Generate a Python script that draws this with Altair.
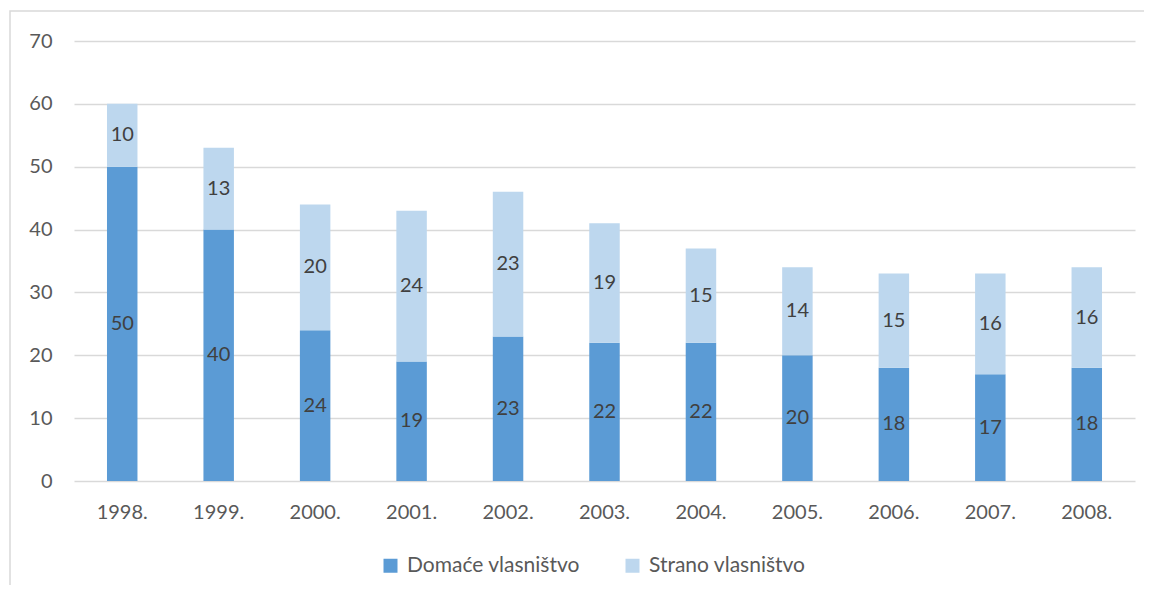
import altair as alt
import pandas as pd

years = ["1998.", "1999.", "2000.", "2001.", "2002.", "2003.", "2004.", "2005.", "2006.", "2007.", "2008."]
domace = [50, 40, 24, 19, 23, 22, 22, 20, 18, 17, 18]
strano = [10, 13, 20, 24, 23, 19, 15, 14, 15, 16, 16]
series = ["Domaće vlasništvo", "Strano vlasništvo"]
colors = ["#5B9BD5", "#BDD7EE"]
y_ticks = [0, 10, 20, 30, 40, 50, 60, 70]

rows = []
for i, yr in enumerate(years):
    rows.append({"year": yr, "series": series[0], "value": domace[i], "ord": 0})
    rows.append({"year": yr, "series": series[1], "value": strano[i], "ord": 1})
df = pd.DataFrame(rows)

FONT = "Lato"
AXIS_COLOR = "#595959"
GRID = "#D9D9D9"

xenc = alt.X(
    "year:N",
    sort=years,
    scale=alt.Scale(paddingInner=0.684, paddingOuter=0.342),
    axis=alt.Axis(
        title=None, labelAngle=0, ticks=False, domain=False, grid=False,
        labelPadding=21, labelFontSize=20, labelColor=AXIS_COLOR, labelFont=FONT,
    ),
)

base = alt.Chart(df)

bars = base.mark_bar().encode(
    x=xenc,
    y=alt.Y(
        "value:Q",
        stack="zero",
        scale=alt.Scale(domain=[0, 70], nice=False),
        axis=alt.Axis(
            values=y_ticks, title=None, ticks=False, domain=False, grid=True,
            gridColor=GRID, gridWidth=1.3, labelPadding=22, labelFontSize=20,
            labelColor=AXIS_COLOR, labelFont=FONT,
        ),
    ),
    color=alt.Color(
        "series:N",
        scale=alt.Scale(domain=series, range=colors),
        legend=alt.Legend(
            title=None, orient="none", direction="horizontal", legendX=306, legendY=514,
            symbolType="square", symbolSize=196, symbolStrokeWidth=0, labelFontSize=21,
            labelColor=AXIS_COLOR, labelFont=FONT, columnPadding=42, labelOffset=6,
            padding=0, labelLimit=400,
        ),
    ),
    order=alt.Order("ord:Q", sort="ascending"),
)

labels = base.transform_stack(
    stack="value", groupby=["year"], as_=["v0", "v1"], sort=[alt.SortField("ord", "ascending")]
).transform_calculate(
    mid="(datum.v0 + datum.v1) / 2"
).mark_text(fontSize=20, color="#404040", font=FONT, baseline="middle").encode(
    x=alt.X("year:N", sort=years),
    y=alt.Y("mid:Q"),
    text="value:Q",
)

border = alt.Chart(alt.Data(values=[{}])).mark_rect(
    fill=None, stroke=GRID, strokeWidth=1.5
).encode(
    x=alt.value(-64), x2=alt.value(1300), y=alt.value(-30), y2=alt.value(800)
)

chart = alt.layer(border, bars, labels).properties(
    width=1061,
    height=440,
    autosize=alt.AutoSizeParams(type="none"),
    padding={"left": 66, "top": 33, "right": 9, "bottom": 104},
    background="white",
).configure_view(stroke=None)

chart.save("out.html", embed_options={"renderer": "svg", "actions": False})
